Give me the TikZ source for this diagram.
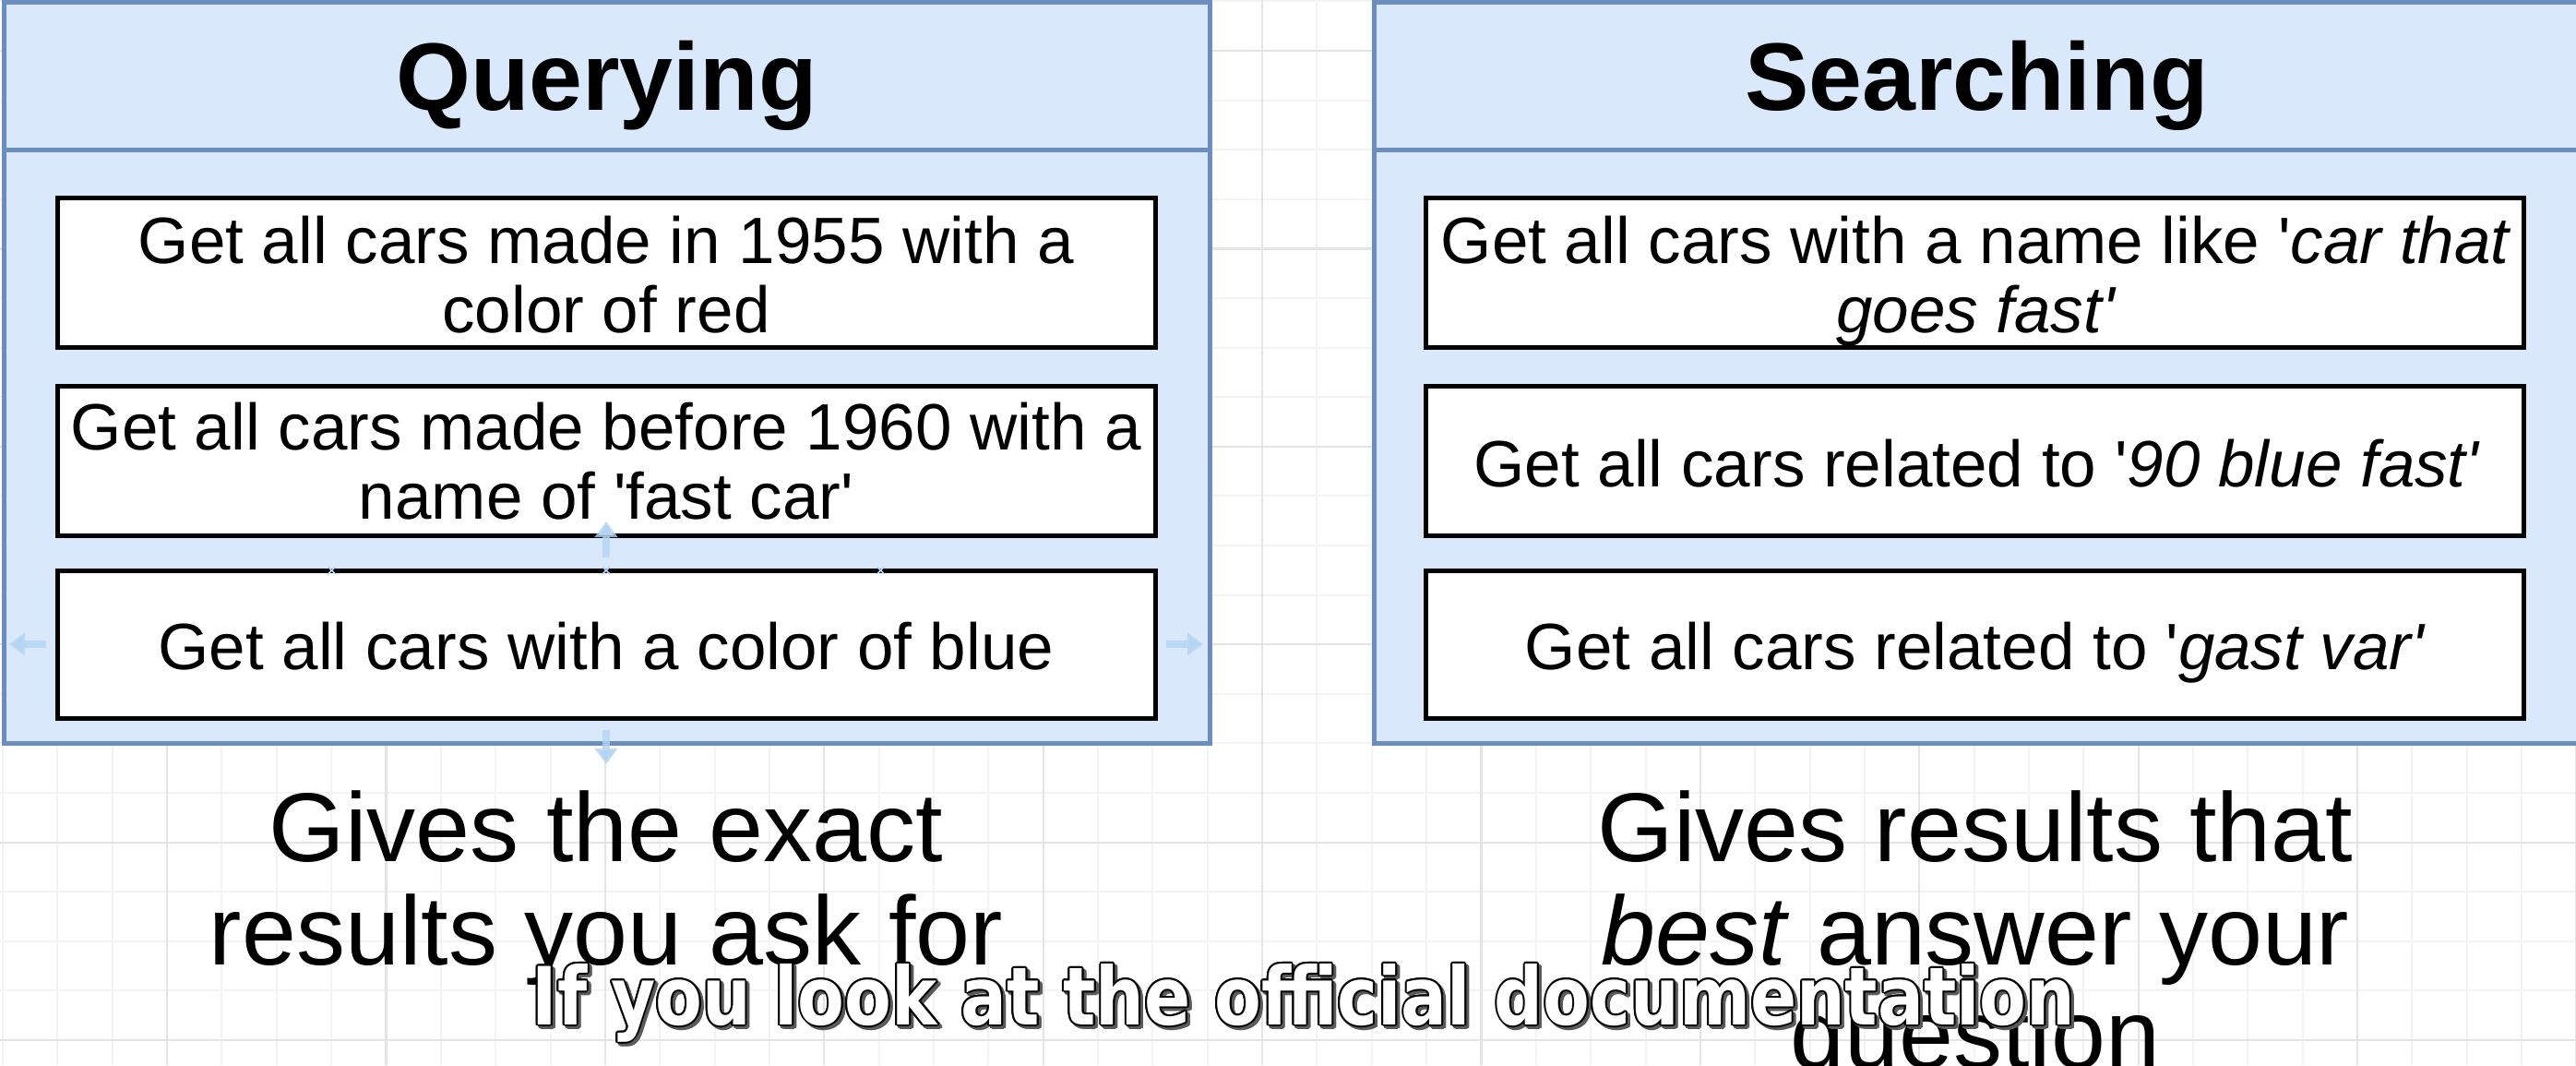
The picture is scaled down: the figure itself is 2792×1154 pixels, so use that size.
\documentclass[tikz,border=0pt]{standalone}
\usepackage{fontspec}
\setmainfont{Liberation Sans}[Ligatures=TeXOff]
\newfontfamily\subfont{DejaVu Sans}[Ligatures=TeXOff]
\usetikzlibrary{arrows.meta,calc}
\definecolor{panelfill}{HTML}{DAE8FC}
\definecolor{panelline}{HTML}{6C8EBF}
\definecolor{gridminor}{HTML}{F3F3F3}
\definecolor{gridmajor}{HTML}{E4E4E4}
\definecolor{hoverblue}{HTML}{B4D4F2}
\definecolor{subshadow}{HTML}{5A5A5A}
\newcommand{\subline}{\scalebox{0.85}[1]{If you look at the official documentation}}
\begin{document}
\begin{tikzpicture}[x=1pt,y=-1pt,
  panel/.style={draw=panelline,fill=panelfill,line width=5pt,inner sep=0pt,outer sep=0pt,anchor=north west},
  qbox/.style={draw=black,fill=white,line width=5pt,minimum width=1190pt,inner sep=0pt,outer sep=0pt},
  titletext/.style={font=\fontsize{104}{110}\selectfont\bfseries,anchor=base,inner sep=0pt},
  boxtext/.style={font=\fontsize{71}{76}\selectfont,anchor=base,inner sep=0pt},
  bigtext/.style={font=\fontsize{106}{112}\selectfont,anchor=base,inner sep=0pt},
  subtext/.style={font=\subfont\fontsize{87}{90}\selectfont\bfseries,anchor=base,inner sep=0pt},
  hover/.style={draw=hoverblue,draw opacity=0.8,line width=8pt,-{Triangle[width=24pt,length=17pt]}},
  cpoint/.style={draw=hoverblue,line width=1.6pt},
]
\useasboundingbox (0,0) rectangle (2792,1154);
\clip (0,0) rectangle (2792,1154);
\fill[white] (0,0) rectangle (2792,1154);

% grid
\foreach \k in {0,...,21}{
  \draw[gridminor,line width=2pt] (0,{1.4+53.6*\k}) -- (2792,{1.4+53.6*\k});
}
\foreach \k in {0,...,47}{
  \draw[gridminor,line width=2pt] ({3+59.35*\k},0) -- ({3+59.35*\k},1154);
}
\foreach \k in {1,5,...,21}{
  \draw[gridmajor,line width=2.2pt] (0,{1.4+53.6*\k}) -- (2792,{1.4+53.6*\k});
}
\foreach \k in {3,7,...,47}{
  \draw[gridmajor,line width=2.2pt] ({3+59.35*\k},0) -- ({3+59.35*\k},1154);
}

% panels
\node[panel,minimum width=1307pt,minimum height=803pt] (lp) at (4,2) {};
\node[panel,minimum width=1307pt,minimum height=803pt] (rp) at (1489,2) {};
\draw[panelline,line width=5pt] (4,162) -- (1311,162);
\draw[panelline,line width=5pt] (1489,162) -- (2796,162);

\node[titletext] (tq) at (657.5,119) {Querying};
\node[titletext] (ts) at (2142.5,119) {Searching};

% left boxes
\node[qbox,minimum height=162pt] (q1) at (657,295) {};
\node[qbox,minimum height=162pt] (q2) at (657,499) {};
\node[qbox,minimum height=160pt] (q3) at (657,698) {};
\node[boxtext] (q1a) at (657,285) {Get all cars made in 1955 with a};
\node[boxtext] (q1b) at (657,360) {color of red};
\node[boxtext] (q2a) at (657,487) {Get all cars made before 1960 with a};
\node[boxtext] (q2b) at (657,562) {name of 'fast car'};
\node[boxtext] (q3a) at (657,725) {Get all cars with a color of blue};

% right boxes
\node[qbox,minimum height=162pt] (s1) at (2140.5,295) {};
\node[qbox,minimum height=162pt] (s2) at (2140.5,499) {};
\node[qbox,minimum height=160pt] (s3) at (2140.5,698) {};
\node[boxtext] (s1a) at (2142,285) {Get all cars with a name like '\textit{car that}};
\node[boxtext] (s1b) at (2142,360) {\textit{goes fast'}};
\node[boxtext] (s2a) at (2143,527) {Get all cars related to '\textit{90 blue fast'}};
\node[boxtext] (s3a) at (2141,725) {Get all cars related to '\textit{gast var'}};

% hover arrows and connection points around the selected box
\coordinate (hl0) at (50,698);  \coordinate (hl1) at (10,698);
\coordinate (hr0) at (1264,698); \coordinate (hr1) at (1304,698);
\coordinate (ht0) at (657,604); \coordinate (ht1) at (657,565);
\coordinate (hb0) at (657,791); \coordinate (hb1) at (657,828);
\draw[hover] (hl0) -- (hl1);
\draw[hover] (hr0) -- (hr1);
\draw[hover] (ht0) -- (ht1);
\draw[hover] (hb0) -- (hb1);
\foreach \f in {0.25,0.5,0.75}{
  \draw[cpoint] ($(q3.north west)!\f!(q3.north east)+(-4,-4)$) -- ++(8,8) ++(-8,0) -- ++(8,-8);
}

% bottom texts
\node[bigtext] (lb1) at (657,933) {Gives the exact};
\node[bigtext] (lb2) at (657,1045) {results you ask for};
\node[bigtext] (rb1) at (2141,933) {Gives results that};
\node[bigtext] (rb2) at (2141,1045) {\textit{best} answer your};
\node[bigtext] (rb3) at (2141,1157) {question};

% subtitle (white text with thin black outline and grey shadow)
\coordinate (subpos) at (1413,1110);
\foreach \a in {0,30,...,330}{
  \node[subtext,text=subshadow] (shs\a) at ([shift={(\a:2)},shift={(3,3)}]subpos) {\subline};
}
\foreach \a in {0,30,...,330}{
  \node[subtext,text=black] (sho\a) at ([shift={(\a:2)}]subpos) {\subline};
}
\node[subtext,text=white] (sub) at (subpos) {\subline};
\end{tikzpicture}
\end{document}
